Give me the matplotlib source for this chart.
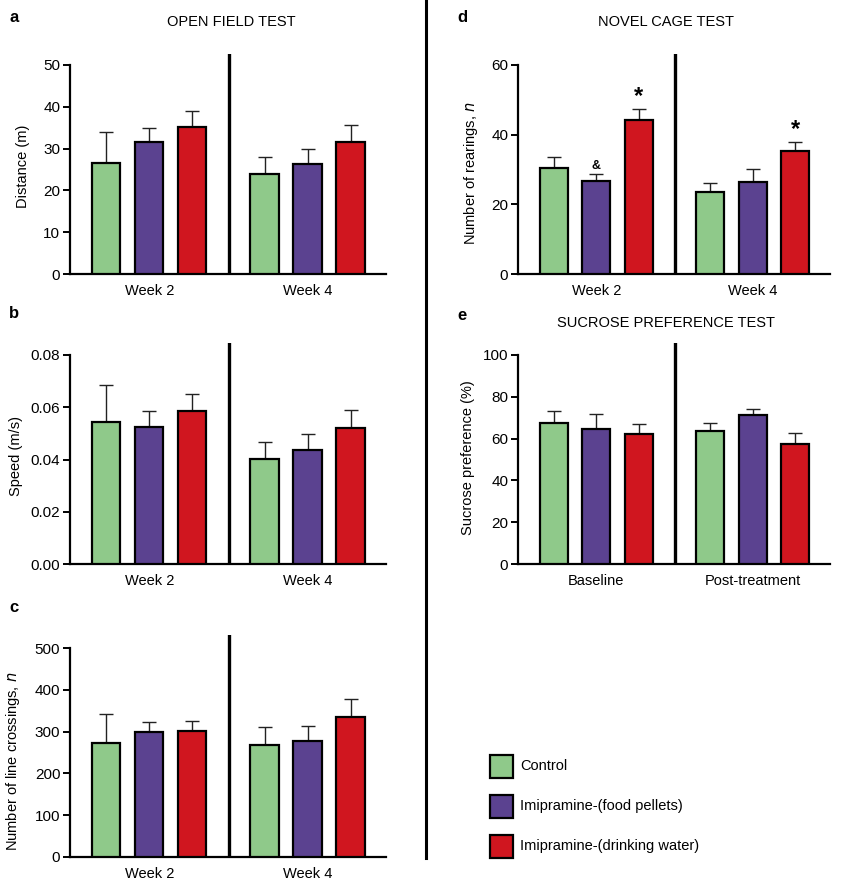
import matplotlib
matplotlib.use("Agg")
import matplotlib.pyplot as plt
from matplotlib.patches import Rectangle
from matplotlib.lines import Line2D

plt.rcParams['font.family'] = ['Liberation Sans', 'DejaVu Sans']

W, H = 841, 885

groups = ["Control", "Imipramine-(food pellets)", "Imipramine-(drinking water)"]
colors = ["#8fc98a", "#5b4290", "#d0161f"]

week_labels = ["Week 2", "Week 4"]
period_labels = ["Baseline", "Post-treatment"]

# panel a: distance (m)
dist_mean = [[26.6, 31.6, 35.2], [24.0, 26.2, 31.5]]
dist_err = [[7.3, 3.4, 3.8], [4.0, 3.8, 4.2]]
# panel b: speed (m/s)
speed_mean = [[0.0543, 0.0526, 0.0587], [0.0403, 0.0436, 0.0522]]
speed_err = [[0.0144, 0.0059, 0.0065], [0.0063, 0.0060, 0.0069]]
# panel c: line crossings
cross_mean = [[272, 300, 302], [268, 278, 336]]
cross_err = [[71, 24, 23], [44, 36, 42]]
# panel d: rearings
rear_mean = [[30.4, 26.8, 44.2], [23.4, 26.5, 35.4]]
rear_err = [[3.1, 1.8, 3.1], [2.6, 3.5, 2.6]]
rear_marks = [["", "&", "*"], ["", "", "*"]]
# panel e: sucrose preference (%)
sucr_mean = [[67.6, 64.8, 62.0], [63.4, 71.3, 57.4]]
sucr_err = [[5.8, 7.2, 4.8], [4.2, 3.0, 5.4]]

fig = plt.figure(figsize=(W / 100, H / 100), dpi=100)


def px_axes(x0, x1, ytop, ybot):
    return fig.add_axes([x0 / W, (H - ybot) / H, (x1 - x0) / W, (ybot - ytop) / H])


def fig_text(x, y, s, **kw):
    fig.text(x / W, (H - y) / H, s, **kw)


def panel(ax, means, errs, ymax_tick, ytop, yticks, fmt, xlabels, ylabel, marks=None):
    pos = [[0, 1, 2], [3.68, 4.68, 5.68]]
    for g in range(2):
        for i in range(3):
            ax.bar(pos[g][i], means[g][i], width=0.66, color=colors[i],
                   edgecolor="black", linewidth=1.6, zorder=3)
            ax.errorbar(pos[g][i], means[g][i], yerr=[[0], [errs[g][i]]],
                        fmt="none", ecolor="#222222", elinewidth=1.0,
                        capsize=5, capthick=1.0, zorder=2)
            if marks and marks[g][i]:
                m = marks[g][i]
                if m == "*":
                    ax.text(pos[g][i], means[g][i] + errs[g][i] + ymax_tick * 0.005, m,
                            ha="center", va="bottom", fontsize=17, fontweight="bold")
                else:
                    ax.text(pos[g][i], means[g][i] + errs[g][i] + ymax_tick * 0.012, m,
                            ha="center", va="bottom", fontsize=9, fontweight="bold")
    ax.axvline(2.85, color="black", linewidth=2.4, zorder=4)
    ax.set_xlim(-0.84, 6.5)
    ax.set_ylim(0, ytop)
    for s in ["top", "right"]:
        ax.spines[s].set_visible(False)
    ax.spines["left"].set_bounds(0, ymax_tick)
    ax.spines["left"].set_linewidth(1.6)
    ax.spines["bottom"].set_linewidth(1.6)
    ax.set_yticks(yticks)
    ax.set_yticklabels([fmt.format(v) for v in yticks])
    ax.tick_params(axis="y", direction="out", length=5, width=1.4, labelsize=11, pad=2)
    ax.set_xticks([1, 4.68])
    ax.set_xticklabels(xlabels)
    ax.tick_params(axis="x", length=0, labelsize=10.5, pad=7)
    ax.set_ylabel(ylabel, fontsize=10.5)
    ax.set_facecolor("none")


# panel a
ax_a = px_axes(70, 386, 54, 274)
panel(ax_a, dist_mean, dist_err, 50, 50 * 220 / 209, [0, 10, 20, 30, 40, 50], "{:g}",
      week_labels, "Distance (m)")
ax_a.yaxis.set_label_coords(-0.127, 0.49)
fig_text(231, 22, "OPEN FIELD TEST", ha="center", va="center", fontsize=10.5)
fig_text(9, 18, "a", ha="left", va="center", fontsize=12, fontweight="bold")

# panel b
ax_b = px_axes(70, 386, 343, 564)
panel(ax_b, speed_mean, speed_err, 0.08, 0.08 * 221 / 209, [0, 0.02, 0.04, 0.06, 0.08], "{:.2f}",
      week_labels, "Speed (m/s)")
ax_b.yaxis.set_label_coords(-0.149, 0.49)
fig_text(9, 313, "b", ha="left", va="center", fontsize=12, fontweight="bold")

# panel c
ax_c = px_axes(70, 386, 635, 857)
panel(ax_c, cross_mean, cross_err, 500, 500 * 222 / 209, [0, 100, 200, 300, 400, 500], "{:g}",
      week_labels, "Number of line crossings, $\\it{n}$")
ax_c.yaxis.set_label_coords(-0.152, 0.43)
fig_text(9, 608, "c", ha="left", va="center", fontsize=12, fontweight="bold")

# panel d
ax_d = px_axes(518, 830, 54, 274)
panel(ax_d, rear_mean, rear_err, 60, 60 * 220 / 209, [0, 20, 40, 60], "{:g}",
      week_labels, "Number of rearings, $\\it{n}$", marks=rear_marks)
ax_d.yaxis.set_label_coords(-0.122, 0.46)
fig_text(666, 22, "NOVEL CAGE TEST", ha="center", va="center", fontsize=10.5)
fig_text(457, 18, "d", ha="left", va="center", fontsize=12, fontweight="bold")

# panel e
ax_e = px_axes(518, 830, 343, 564)
panel(ax_e, sucr_mean, sucr_err, 100, 100 * 221 / 209, [0, 20, 40, 60, 80, 100], "{:g}",
      period_labels, "Sucrose preference (%)")
ax_e.yaxis.set_label_coords(-0.138, 0.48)
fig_text(666, 323, "SUCROSE PREFERENCE TEST", ha="center", va="center", fontsize=10.5)
fig_text(457, 316, "e", ha="left", va="center", fontsize=12, fontweight="bold")

# main separator
fig.add_artist(Line2D([426 / W, 426 / W], [1, (H - 858) / H], color="black", linewidth=2.2,
                      transform=fig.transFigure))

# legend
leg_y = [766, 806, 846]
for i in range(3):
    yc = leg_y[i]
    fig.add_artist(Rectangle((490 / W, (H - yc - 11.5) / H), 23 / W, 23 / H,
                             facecolor=colors[i], edgecolor="black", linewidth=1.6,
                             transform=fig.transFigure))
    fig_text(520, yc, groups[i], ha="left", va="center", fontsize=10.5)

fig.savefig("out.png", dpi=100, facecolor="white")
